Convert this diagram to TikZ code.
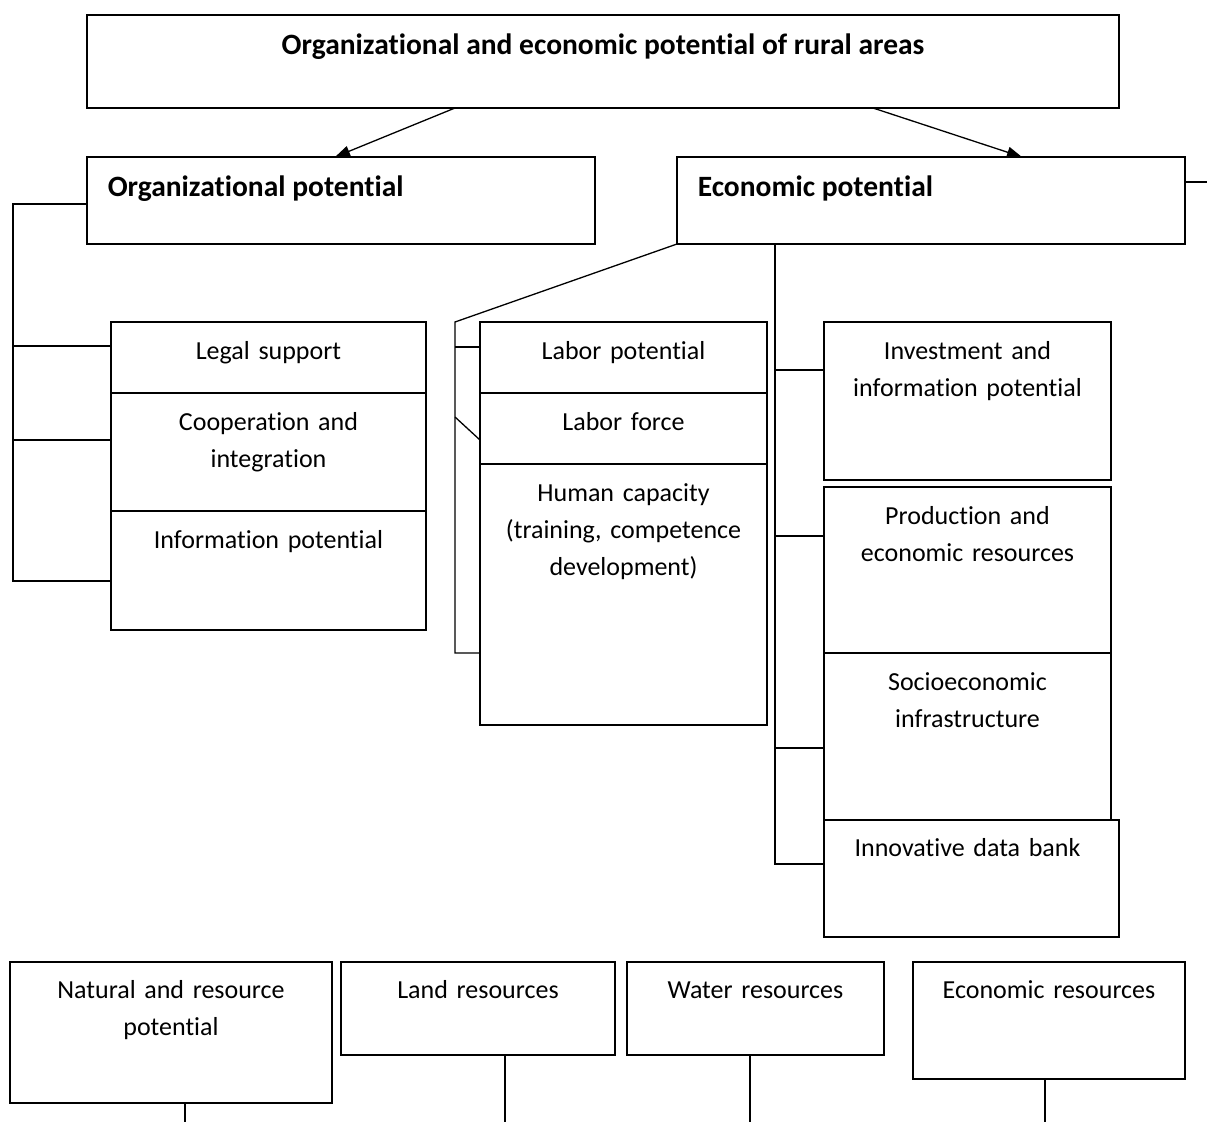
\documentclass[tikz,border=0pt]{standalone}
\usepackage{fontspec}
\setmainfont{Carlito}[Ligatures=NoCommon]
\usetikzlibrary{arrows.meta,calc}
\begin{document}
\begin{tikzpicture}[x=1pt,y=-1pt,
  line width=1.5pt,
  cell/.style={draw,rectangle,anchor=north west,inner sep=0pt,outer sep=0pt},
  txt/.style={anchor=base,align=center,inner sep=0pt,text width=300pt,font=\fontsize{26}{37}\selectfont},
  head/.style={anchor=base west,inner sep=0pt,font=\fontsize{29.5}{34}\selectfont\bfseries},
  link/.style={line width=1.3pt},
  arr/.style={line width=1.3pt,-{Triangle[length=15pt,width=11pt]}}]
\useasboundingbox (0,0) rectangle (1207,1122);

% ---- top level ----
\node[cell,minimum width=1032pt,minimum height=93pt] (top) at (87,15) {};
\node[anchor=base,inner sep=0pt,font=\fontsize{29.5}{34}\selectfont\bfseries] (top-t) at ([yshift=-39pt]top.north) {Organizational and economic potential of rural areas};

\node[cell,minimum width=508pt,minimum height=87pt] (org) at (87,157) {};
\node[head] (org-t) at ([shift={(20pt,-39pt)}]org.north west) {Organizational potential};
\node[cell,minimum width=508pt,minimum height=87pt] (eco) at (677,157) {};
\node[head] (eco-t) at ([shift={(20pt,-39pt)}]eco.north west) {Economic potential};

\draw[arr] ($(top.south west)+(368,0)$) -- ($(org.north west)+(248,0)$);
\draw[arr] ($(top.south west)+(786,0)$) -- ($(eco.north west)+(345,0)$);
\coordinate (ecoR) at (1207,182);
\draw[link] ($(eco.north east)+(0,25)$) -- (ecoR);

% ---- organizational branch ----
\node[cell,minimum width=315pt,minimum height=71pt] (legal) at (111,322) {};
\node[cell,minimum width=315pt,minimum height=118pt] (coop) at (111,393) {};
\node[cell,minimum width=315pt,minimum height=119pt] (info) at (111,511) {};
\node[txt] at ([yshift=-37pt]legal.north) {Legal support};
\node[txt] at ([yshift=-37pt]coop.north) {Cooperation and\\integration};
\node[txt] at ([yshift=-37pt]info.north) {Information potential};

\coordinate (oT) at (13,204);
\coordinate (oB) at (13,581);
\draw[link] ($(org.north west)+(0,47)$) -- (oT) -- (oB) -- ($(info.north west)+(0,70)$);
\draw[link] (13,346) -- ($(legal.north west)+(0,24)$);
\draw[link] (13,440) -- ($(coop.north west)+(0,47)$);

% ---- labour branch ----
\node[cell,minimum width=287pt,minimum height=71pt] (labpot) at (480,322) {};
\node[cell,minimum width=287pt,minimum height=71pt] (labforce) at (480,393) {};
\node[cell,minimum width=287pt,minimum height=261pt] (human) at (480,464) {};
\node[txt] at ([yshift=-37pt]labpot.north) {Labor potential};
\node[txt] at ([yshift=-37pt]labforce.north) {Labor force};
\node[txt] at ([yshift=-37pt]human.north) {Human capacity\\(training, competence\\development)};

\coordinate (mT) at (455,322);
\coordinate (mB) at (455,653);
\draw[link] (eco.south west) -- (mT) -- (mB) -- ($(human.north west)+(0,189)$);
\draw[link] (455,347) -- ($(labpot.north west)+(0,25)$);
\draw[link] (455,417) -- ($(labforce.north west)+(0,47)$);

% ---- economic resources branch ----
\node[cell,minimum width=287pt,minimum height=158pt] (invest) at (824,322) {};
\node[cell,minimum width=287pt,minimum height=166pt] (prod) at (824,487) {};
\node[cell,minimum width=287pt,minimum height=167pt] (socio) at (824,653) {};
\node[cell,minimum width=295pt,minimum height=117pt] (innov) at (824,820) {};
\node[txt] at ([yshift=-37pt]invest.north) {Investment and\\information potential};
\node[txt] at ([yshift=-37pt]prod.north) {Production and\\economic resources};
\node[txt] at ([yshift=-37pt]socio.north) {Socioeconomic\\infrastructure};
\node[txt] at ([xshift=-4pt,yshift=-36pt]innov.north) {Innovative data bank};

\coordinate (rT) at (775,244);
\coordinate (rB) at (775,864);
\draw[link] (rT) -- (rB) -- ($(innov.north west)+(0,44)$);
\draw[link] (775,370) -- ($(invest.north west)+(0,48)$);
\draw[link] (775,536) -- ($(prod.north west)+(0,49)$);
\draw[link] (775,748) -- ($(socio.north west)+(0,95)$);

% ---- natural resources row ----
\node[cell,minimum width=322pt,minimum height=141pt] (natural) at (10,962) {};
\node[cell,minimum width=274pt,minimum height=93pt] (land) at (341,962) {};
\node[cell,minimum width=257pt,minimum height=93pt] (water) at (627,962) {};
\node[cell,minimum width=272pt,minimum height=117pt] (econres) at (913,962) {};
\node[txt] at ([yshift=-36pt]natural.north) {Natural and resource\\potential};
\node[txt] at ([yshift=-36pt]land.north) {Land resources};
\node[txt] at ([yshift=-36pt]water.north) {Water resources};
\node[txt] at ([yshift=-36pt]econres.north) {Economic resources};

\coordinate (n1) at (185,1122);
\coordinate (n2) at (505,1122);
\coordinate (n3) at (750,1122);
\coordinate (n4) at (1045,1122);
\draw[link] ($(natural.south west)+(175,0)$) -- (n1);
\draw[link] ($(land.south west)+(164,0)$) -- (n2);
\draw[link] ($(water.south west)+(123,0)$) -- (n3);
\draw[link] ($(econres.south west)+(132,0)$) -- (n4);
\end{tikzpicture}
\end{document}
